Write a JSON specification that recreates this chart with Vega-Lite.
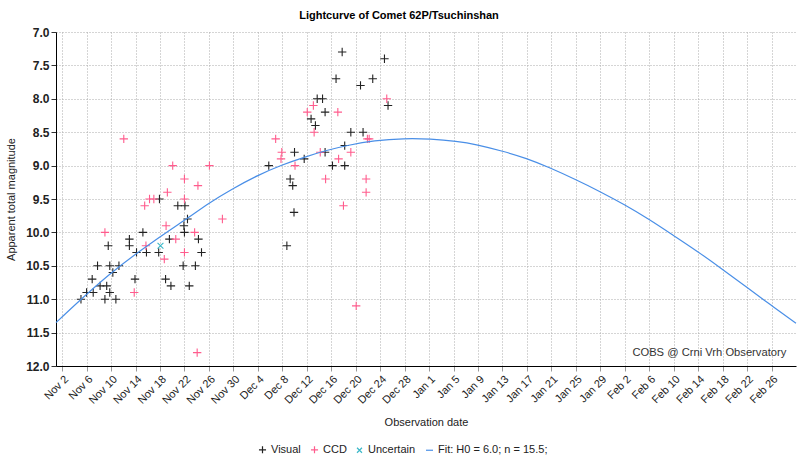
{
  "$schema": "https://vega.github.io/schema/vega-lite/v6.json",
  "width": 740,
  "height": 334,
  "autosize": {"type": "none"},
  "padding": {"left": 56, "top": 32, "right": 4, "bottom": 100},
  "config": {
    "font": "Liberation Sans",
    "view": {"stroke": null},
    "axis": {
      "labelOverlap": false,
      "labelFlush": false,
      "grid": true,
      "gridColor": "#aaa",
      "gridDash": [1, 2],
      "domainColor": "#000",
      "domainWidth": 1,
      "tickSize": 5,
      "titleFontSize": 11,
      "titleFontWeight": "normal",
      "titleColor": "#222",
      "labelColor": "#222"
    },
    "axisX": {
      "labelAngle": -45,
      "labelFontSize": 11,
      "tickColor": "#999",
      "titlePadding": 11
    },
    "axisY": {
      "labelFontSize": 12,
      "labelFontWeight": "bold",
      "tickColor": "#333",
      "titlePadding": 9
    }
  },
  "title": {
    "text": "Lightcurve of Comet 62P/Tsuchinshan",
    "fontSize": 11,
    "fontWeight": "bold",
    "color": "#000",
    "anchor": "middle",
    "offset": 5,
    "dx": -27
  },
  "datasets": {
    "obs": [
      {"date": "2023-11-05T02:00Z", "mag": 11.0, "type": "Visual"},
      {"date": "2023-11-06T00:00Z", "mag": 10.9, "type": "Visual"},
      {"date": "2023-11-07T02:00Z", "mag": 10.9, "type": "Visual"},
      {"date": "2023-11-06T22:00Z", "mag": 10.7, "type": "Visual"},
      {"date": "2023-11-07T19:00Z", "mag": 10.5, "type": "Visual"},
      {"date": "2023-11-08T05:00Z", "mag": 10.8, "type": "Visual"},
      {"date": "2023-11-09T07:00Z", "mag": 10.8, "type": "Visual"},
      {"date": "2023-11-09T00:00Z", "mag": 11.0, "type": "Visual"},
      {"date": "2023-11-09T19:00Z", "mag": 10.9, "type": "Visual"},
      {"date": "2023-11-10T19:00Z", "mag": 11.0, "type": "Visual"},
      {"date": "2023-11-09T19:00Z", "mag": 10.5, "type": "Visual"},
      {"date": "2023-11-11T07:00Z", "mag": 10.5, "type": "Visual"},
      {"date": "2023-11-10T07:00Z", "mag": 10.6, "type": "Visual"},
      {"date": "2023-11-09T13:00Z", "mag": 10.2, "type": "Visual"},
      {"date": "2023-11-13T00:00Z", "mag": 10.1, "type": "Visual"},
      {"date": "2023-11-13T00:00Z", "mag": 10.2, "type": "Visual"},
      {"date": "2023-11-13T22:00Z", "mag": 10.7, "type": "Visual"},
      {"date": "2023-11-14T04:00Z", "mag": 10.3, "type": "Visual"},
      {"date": "2023-11-15T05:00Z", "mag": 10.0, "type": "Visual"},
      {"date": "2023-11-15T19:00Z", "mag": 10.3, "type": "Visual"},
      {"date": "2023-11-17T19:00Z", "mag": 10.3, "type": "Visual"},
      {"date": "2023-11-18T22:00Z", "mag": 10.7, "type": "Visual"},
      {"date": "2023-11-19T19:00Z", "mag": 10.8, "type": "Visual"},
      {"date": "2023-11-19T13:00Z", "mag": 10.1, "type": "Visual"},
      {"date": "2023-11-21T19:00Z", "mag": 10.5, "type": "Visual"},
      {"date": "2023-11-22T00:00Z", "mag": 10.0, "type": "Visual"},
      {"date": "2023-11-21T22:00Z", "mag": 9.9, "type": "Visual"},
      {"date": "2023-11-22T12:00Z", "mag": 9.8, "type": "Visual"},
      {"date": "2023-11-22T19:00Z", "mag": 10.8, "type": "Visual"},
      {"date": "2023-11-23T19:00Z", "mag": 10.5, "type": "Visual"},
      {"date": "2023-11-24T07:00Z", "mag": 10.1, "type": "Visual"},
      {"date": "2023-11-24T19:00Z", "mag": 10.3, "type": "Visual"},
      {"date": "2023-11-17T22:00Z", "mag": 9.5, "type": "Visual"},
      {"date": "2023-11-20T22:00Z", "mag": 9.6, "type": "Visual"},
      {"date": "2023-11-22T02:00Z", "mag": 9.6, "type": "Visual"},
      {"date": "2023-12-05T19:00Z", "mag": 9.0, "type": "Visual"},
      {"date": "2023-12-10T00:00Z", "mag": 8.8, "type": "Visual"},
      {"date": "2023-12-09T07:00Z", "mag": 9.2, "type": "Visual"},
      {"date": "2023-12-09T17:00Z", "mag": 9.3, "type": "Visual"},
      {"date": "2023-12-09T22:00Z", "mag": 9.7, "type": "Visual"},
      {"date": "2023-12-08T18:00Z", "mag": 10.2, "type": "Visual"},
      {"date": "2023-12-17T19:00Z", "mag": 7.3, "type": "Visual"},
      {"date": "2023-12-24T17:00Z", "mag": 7.4, "type": "Visual"},
      {"date": "2023-12-16T19:00Z", "mag": 7.7, "type": "Visual"},
      {"date": "2023-12-22T19:00Z", "mag": 7.7, "type": "Visual"},
      {"date": "2023-12-20T19:00Z", "mag": 7.8, "type": "Visual"},
      {"date": "2023-12-25T07:00Z", "mag": 8.1, "type": "Visual"},
      {"date": "2023-12-13T17:00Z", "mag": 8.0, "type": "Visual"},
      {"date": "2023-12-14T14:00Z", "mag": 8.0, "type": "Visual"},
      {"date": "2023-12-15T00:00Z", "mag": 8.2, "type": "Visual"},
      {"date": "2023-12-12T17:00Z", "mag": 8.3, "type": "Visual"},
      {"date": "2023-12-13T10:00Z", "mag": 8.4, "type": "Visual"},
      {"date": "2023-12-19T05:00Z", "mag": 8.5, "type": "Visual"},
      {"date": "2023-12-21T05:00Z", "mag": 8.5, "type": "Visual"},
      {"date": "2023-12-11T14:00Z", "mag": 8.9, "type": "Visual"},
      {"date": "2023-12-15T00:00Z", "mag": 8.8, "type": "Visual"},
      {"date": "2023-12-18T05:00Z", "mag": 8.7, "type": "Visual"},
      {"date": "2023-12-16T05:00Z", "mag": 9.0, "type": "Visual"},
      {"date": "2023-12-18T05:00Z", "mag": 9.0, "type": "Visual"},
      {"date": "2023-11-12T02:00Z", "mag": 8.6, "type": "CCD"},
      {"date": "2023-11-20T02:00Z", "mag": 9.0, "type": "CCD"},
      {"date": "2023-11-26T02:00Z", "mag": 9.0, "type": "CCD"},
      {"date": "2023-11-22T00:00Z", "mag": 9.2, "type": "CCD"},
      {"date": "2023-11-24T05:00Z", "mag": 9.3, "type": "CCD"},
      {"date": "2023-11-19T05:00Z", "mag": 9.4, "type": "CCD"},
      {"date": "2023-11-22T00:00Z", "mag": 9.5, "type": "CCD"},
      {"date": "2023-11-15T12:00Z", "mag": 9.6, "type": "CCD"},
      {"date": "2023-11-16T07:00Z", "mag": 9.5, "type": "CCD"},
      {"date": "2023-11-17T00:00Z", "mag": 9.5, "type": "CCD"},
      {"date": "2023-11-28T05:00Z", "mag": 9.8, "type": "CCD"},
      {"date": "2023-11-09T00:00Z", "mag": 10.0, "type": "CCD"},
      {"date": "2023-11-13T19:00Z", "mag": 10.9, "type": "CCD"},
      {"date": "2023-11-15T17:00Z", "mag": 10.2, "type": "CCD"},
      {"date": "2023-11-18T17:00Z", "mag": 10.4, "type": "CCD"},
      {"date": "2023-11-19T00:00Z", "mag": 9.9, "type": "CCD"},
      {"date": "2023-11-20T14:00Z", "mag": 10.1, "type": "CCD"},
      {"date": "2023-11-22T00:00Z", "mag": 10.3, "type": "CCD"},
      {"date": "2023-11-23T16:00Z", "mag": 10.0, "type": "CCD"},
      {"date": "2023-11-24T02:00Z", "mag": 11.8, "type": "CCD"},
      {"date": "2023-12-06T22:00Z", "mag": 8.6, "type": "CCD"},
      {"date": "2023-12-07T22:00Z", "mag": 8.8, "type": "CCD"},
      {"date": "2023-12-07T19:00Z", "mag": 8.9, "type": "CCD"},
      {"date": "2023-12-10T02:00Z", "mag": 9.0, "type": "CCD"},
      {"date": "2023-12-25T02:00Z", "mag": 8.0, "type": "CCD"},
      {"date": "2023-12-12T02:00Z", "mag": 8.2, "type": "CCD"},
      {"date": "2023-12-13T02:00Z", "mag": 8.1, "type": "CCD"},
      {"date": "2023-12-17T02:00Z", "mag": 8.2, "type": "CCD"},
      {"date": "2023-12-13T05:00Z", "mag": 8.5, "type": "CCD"},
      {"date": "2023-12-21T22:00Z", "mag": 8.6, "type": "CCD"},
      {"date": "2023-12-22T05:00Z", "mag": 8.6, "type": "CCD"},
      {"date": "2023-12-14T05:00Z", "mag": 8.8, "type": "CCD"},
      {"date": "2023-12-17T05:00Z", "mag": 8.9, "type": "CCD"},
      {"date": "2023-12-19T05:00Z", "mag": 8.8, "type": "CCD"},
      {"date": "2023-12-15T02:00Z", "mag": 9.2, "type": "CCD"},
      {"date": "2023-12-21T17:00Z", "mag": 9.2, "type": "CCD"},
      {"date": "2023-12-21T17:00Z", "mag": 9.4, "type": "CCD"},
      {"date": "2023-12-18T00:00Z", "mag": 9.6, "type": "CCD"},
      {"date": "2023-12-20T02:00Z", "mag": 11.1, "type": "CCD"},
      {"date": "2023-11-18T02:00Z", "mag": 10.2, "type": "Uncertain"}
    ],
    "fit": [
      {"date": "2023-11-01T00:00Z", "mag": 11.35, "type": "Fit: H0 = 6.0; n = 15.5;"},
      {"date": "2023-11-09T19:00Z", "mag": 10.6, "type": "Fit: H0 = 6.0; n = 15.5;"},
      {"date": "2023-11-17T10:00Z", "mag": 10.1, "type": "Fit: H0 = 6.0; n = 15.5;"},
      {"date": "2023-11-22T12:00Z", "mag": 9.79, "type": "Fit: H0 = 6.0; n = 15.5;"},
      {"date": "2023-11-26T00:00Z", "mag": 9.56, "type": "Fit: H0 = 6.0; n = 15.5;"},
      {"date": "2023-11-29T19:00Z", "mag": 9.35, "type": "Fit: H0 = 6.0; n = 15.5;"},
      {"date": "2023-12-04T02:00Z", "mag": 9.14, "type": "Fit: H0 = 6.0; n = 15.5;"},
      {"date": "2023-12-07T22:00Z", "mag": 8.99, "type": "Fit: H0 = 6.0; n = 15.5;"},
      {"date": "2023-12-11T17:00Z", "mag": 8.87, "type": "Fit: H0 = 6.0; n = 15.5;"},
      {"date": "2023-12-15T12:00Z", "mag": 8.765, "type": "Fit: H0 = 6.0; n = 15.5;"},
      {"date": "2023-12-18T17:00Z", "mag": 8.695, "type": "Fit: H0 = 6.0; n = 15.5;"},
      {"date": "2023-12-23T01:00Z", "mag": 8.625, "type": "Fit: H0 = 6.0; n = 15.5;"},
      {"date": "2023-12-27T22:00Z", "mag": 8.592, "type": "Fit: H0 = 6.0; n = 15.5;"},
      {"date": "2024-01-01T05:00Z", "mag": 8.6, "type": "Fit: H0 = 6.0; n = 15.5;"},
      {"date": "2024-01-05T13:00Z", "mag": 8.635, "type": "Fit: H0 = 6.0; n = 15.5;"},
      {"date": "2024-01-08T19:00Z", "mag": 8.685, "type": "Fit: H0 = 6.0; n = 15.5;"},
      {"date": "2024-01-13T02:00Z", "mag": 8.785, "type": "Fit: H0 = 6.0; n = 15.5;"},
      {"date": "2024-01-16T22:00Z", "mag": 8.89, "type": "Fit: H0 = 6.0; n = 15.5;"},
      {"date": "2024-01-20T17:00Z", "mag": 9.03, "type": "Fit: H0 = 6.0; n = 15.5;"},
      {"date": "2024-01-25T00:00Z", "mag": 9.21, "type": "Fit: H0 = 6.0; n = 15.5;"},
      {"date": "2024-01-28T19:00Z", "mag": 9.38, "type": "Fit: H0 = 6.0; n = 15.5;"},
      {"date": "2024-02-02T02:00Z", "mag": 9.59, "type": "Fit: H0 = 6.0; n = 15.5;"},
      {"date": "2024-02-05T22:00Z", "mag": 9.8, "type": "Fit: H0 = 6.0; n = 15.5;"},
      {"date": "2024-02-09T17:00Z", "mag": 10.03, "type": "Fit: H0 = 6.0; n = 15.5;"},
      {"date": "2024-02-14T00:00Z", "mag": 10.29, "type": "Fit: H0 = 6.0; n = 15.5;"},
      {"date": "2024-02-17T19:00Z", "mag": 10.54, "type": "Fit: H0 = 6.0; n = 15.5;"},
      {"date": "2024-02-22T02:00Z", "mag": 10.83, "type": "Fit: H0 = 6.0; n = 15.5;"},
      {"date": "2024-02-25T22:00Z", "mag": 11.09, "type": "Fit: H0 = 6.0; n = 15.5;"},
      {"date": "2024-03-01T00:00Z", "mag": 11.36, "type": "Fit: H0 = 6.0; n = 15.5;"}
    ],
    "note": [
      {"label": "COBS @ Crni Vrh Observatory"}
    ]
  },
  "layer": [
    {
      "data": {"name": "obs"},
      "mark": {"type": "point", "filled": false, "strokeWidth": 1.1, "size": 70, "opacity": 1},
      "encoding": {
        "x": {
          "field": "date",
          "type": "temporal",
          "scale": {
            "type": "utc",
            "domain": [
              {"year": 2023, "month": 11, "date": 1, "utc": true},
              {"year": 2024, "month": 3, "date": 1, "utc": true}
            ],
            "nice": false
          },
          "axis": {
            "values": [
              {"year": 2023, "month": 11, "date": 2, "utc": true},
              {"year": 2023, "month": 11, "date": 6, "utc": true},
              {"year": 2023, "month": 11, "date": 10, "utc": true},
              {"year": 2023, "month": 11, "date": 14, "utc": true},
              {"year": 2023, "month": 11, "date": 18, "utc": true},
              {"year": 2023, "month": 11, "date": 22, "utc": true},
              {"year": 2023, "month": 11, "date": 26, "utc": true},
              {"year": 2023, "month": 11, "date": 30, "utc": true},
              {"year": 2023, "month": 12, "date": 4, "utc": true},
              {"year": 2023, "month": 12, "date": 8, "utc": true},
              {"year": 2023, "month": 12, "date": 12, "utc": true},
              {"year": 2023, "month": 12, "date": 16, "utc": true},
              {"year": 2023, "month": 12, "date": 20, "utc": true},
              {"year": 2023, "month": 12, "date": 24, "utc": true},
              {"year": 2023, "month": 12, "date": 28, "utc": true},
              {"year": 2024, "month": 1, "date": 1, "utc": true},
              {"year": 2024, "month": 1, "date": 5, "utc": true},
              {"year": 2024, "month": 1, "date": 9, "utc": true},
              {"year": 2024, "month": 1, "date": 13, "utc": true},
              {"year": 2024, "month": 1, "date": 17, "utc": true},
              {"year": 2024, "month": 1, "date": 21, "utc": true},
              {"year": 2024, "month": 1, "date": 25, "utc": true},
              {"year": 2024, "month": 1, "date": 29, "utc": true},
              {"year": 2024, "month": 2, "date": 2, "utc": true},
              {"year": 2024, "month": 2, "date": 6, "utc": true},
              {"year": 2024, "month": 2, "date": 10, "utc": true},
              {"year": 2024, "month": 2, "date": 14, "utc": true},
              {"year": 2024, "month": 2, "date": 18, "utc": true},
              {"year": 2024, "month": 2, "date": 22, "utc": true},
              {"year": 2024, "month": 2, "date": 26, "utc": true}
            ],
            "tickCount": 60,
            "format": "%b %-d",
            "labelOverlap": false,
            "title": "Observation date"
          }
        },
        "y": {
          "field": "mag",
          "type": "quantitative",
          "scale": {"domain": [7, 12], "reverse": true, "nice": false, "zero": false},
          "axis": {
            "values": [7, 7.5, 8, 8.5, 9, 9.5, 10, 10.5, 11, 11.5, 12],
            "tickCount": 30,
            "format": ".1f",
            "labelOverlap": false,
            "title": "Apparent total magnitude"
          }
        },
        "color": {
          "field": "type",
          "type": "nominal",
          "scale": {
            "domain": ["Visual", "CCD", "Uncertain", "Fit: H0 = 6.0; n = 15.5;"],
            "range": ["#222222", "#ff5c8d", "#3bb8c8", "#4a8fe7"]
          },
          "legend": {
            "title": null,
            "orient": "none",
            "legendX": 201,
            "legendY": 412,
            "direction": "horizontal",
            "labelFontSize": 11,
            "labelColor": "#222",
            "symbolSize": 50,
            "symbolStrokeWidth": 1.2,
            "columnPadding": 7,
            "labelOffset": 3
          }
        },
        "shape": {
          "field": "type",
          "type": "nominal",
          "scale": {
            "domain": ["Visual", "CCD", "Uncertain", "Fit: H0 = 6.0; n = 15.5;"],
            "range": ["M-1,0H1M0,-1V1", "M-1,0H1M0,-1V1", "M-0.7,-0.7L0.7,0.7M-0.7,0.7L0.7,-0.7", "M-1,0H1"]
          },
          "legend": {
            "title": null,
            "orient": "none",
            "legendX": 201,
            "legendY": 412,
            "direction": "horizontal",
            "labelFontSize": 11,
            "labelColor": "#222",
            "symbolSize": 50,
            "symbolStrokeWidth": 1.2,
            "columnPadding": 7,
            "labelOffset": 3
          }
        }
      }
    },
    {
      "data": {"name": "fit"},
      "mark": {"type": "line", "strokeWidth": 1.2, "interpolate": "basis"},
      "encoding": {
        "x": {"field": "date", "type": "temporal"},
        "y": {"field": "mag", "type": "quantitative"},
        "color": {"field": "type", "type": "nominal"}
      }
    },
    {
      "data": {"name": "note"},
      "mark": {"type": "text", "align": "right", "baseline": "middle", "fontSize": 11.2, "color": "#333"},
      "encoding": {
        "x": {"datum": {"year": 2024, "month": 2, "date": 28, "hours": 10, "utc": true}, "type": "temporal"},
        "y": {"datum": 11.8, "type": "quantitative"},
        "text": {"field": "label"}
      }
    }
  ]
}
